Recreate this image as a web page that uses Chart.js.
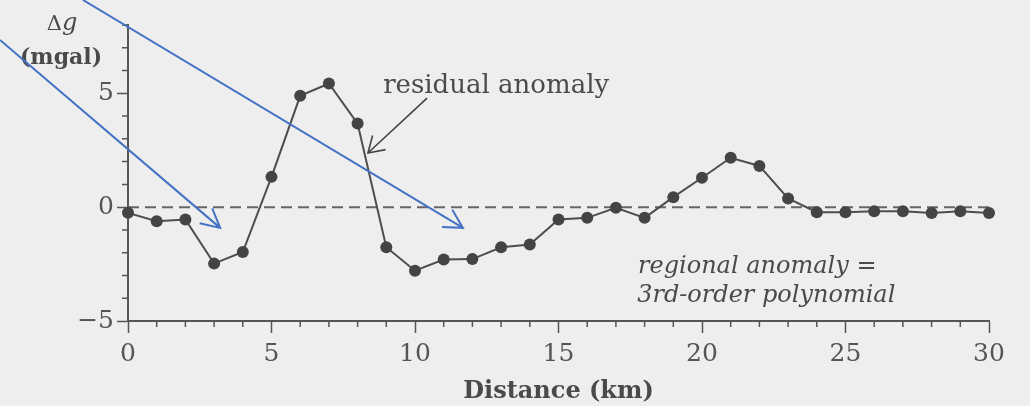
<!DOCTYPE html>
<html>
<head>
<meta charset="utf-8">
<title>Residual gravity anomaly</title>
<script src="https://cdn.jsdelivr.net/npm/chart.js@4.4.1/dist/chart.umd.min.js"></script>
<style>
  html, body { margin: 0; padding: 0; background: #eeeeee; }
  #wrap { width: 1030px; height: 406px; }
</style>
</head>
<body>
<div id="wrap"><canvas id="gravChart"></canvas></div>
<script>
  // station distances along the profile (km)
  const distanceKm = [0, 1, 2, 3, 4, 5, 6, 7, 8, 9, 10, 11, 12, 13, 14, 15,
    16, 17, 18, 19, 20, 21, 22, 23, 24, 25, 26, 27, 28, 29, 30];
  // residual anomaly (mgal)
  const residualMgal = [-0.25, -0.62, -0.54, -2.48, -1.97, 1.33, 4.89, 5.43, 3.67, -1.76,
    -2.79, -2.3, -2.28, -1.76, -1.64, -0.54, -0.47, -0.03, -0.47, 0.44,
    1.29, 2.17, 1.81, 0.38, -0.22, -0.22, -0.18, -0.18, -0.26, -0.18, -0.26];
  // regional anomaly (dashed reference line)
  const regionalKm = [0, 30];
  const regionalMgal = [0, 0];
  const xTickLabels = [0, 5, 10, 15, 20, 25, 30];
  const yTickLabels = [-5, 0, 5];

  const inkColor = '#4a4a4a';
  const axisColor = '#555555';
  const blue = '#4472c4';
  const serif = "'DejaVu Serif', serif";

  function arrow(ctx, x0, y0, x1, y1, head, spread) {
    const a = Math.atan2(y1 - y0, x1 - x0);
    ctx.beginPath();
    ctx.moveTo(x0, y0);
    ctx.lineTo(x1, y1);
    ctx.moveTo(x1 - head * Math.cos(a - spread), y1 - head * Math.sin(a - spread));
    ctx.lineTo(x1, y1);
    ctx.lineTo(x1 - head * Math.cos(a + spread), y1 - head * Math.sin(a + spread));
    ctx.stroke();
  }

  // minor ticks every 1 unit, shorter than the labelled ones
  const minorTicks = {
    id: 'minorTicks',
    afterDraw(chart) {
      const { ctx, scales: { x, y } } = chart;
      ctx.save();
      ctx.strokeStyle = axisColor;
      ctx.lineWidth = 1.5;
      ctx.beginPath();
      for (let v = x.min; v <= x.max; v++) {
        if (v % 5 === 0) continue;
        const px = x.getPixelForValue(v);
        ctx.moveTo(px, x.top);
        ctx.lineTo(px, x.top + 6);
      }
      for (let v = y.min; v <= y.max; v++) {
        if (v % 5 === 0) continue;
        const py = y.getPixelForValue(v);
        ctx.moveTo(y.right - 6, py);
        ctx.lineTo(y.right, py);
      }
      ctx.stroke();
      ctx.restore();
    }
  };

  // text labels, pointer and the blue overlay arrows, placed in data units
  const notes = {
    id: 'notes',
    afterDraw(chart) {
      const { ctx, scales: { x, y }, chartArea } = chart;
      const X = (v) => x.getPixelForValue(v);
      const Y = (v) => y.getPixelForValue(v);
      ctx.save();
      ctx.fillStyle = inkColor;
      ctx.textBaseline = 'alphabetic';

      // y axis title
      ctx.textAlign = 'left';
      ctx.font = '21px ' + serif;
      const dW = ctx.measureText('Δ').width;
      ctx.font = 'italic 24px ' + serif;
      const gW = ctx.measureText('g').width;
      const dx = chartArea.left - 66 - (dW + gW) / 2;
      ctx.font = '21px ' + serif;
      ctx.fillText('Δ', dx, 30);
      ctx.font = 'italic 24px ' + serif;
      ctx.fillText('g', dx + dW, 30);
      ctx.textAlign = 'center';
      ctx.font = 'bold 22px ' + serif;
      ctx.fillText('(mgal)', chartArea.left - 67, 64);

      // residual label + pointer
      ctx.textAlign = 'left';
      ctx.font = '26px ' + serif;
      ctx.fillText('residual anomaly', X(8.89), Y(5.01));
      ctx.strokeStyle = '#444';
      ctx.lineWidth = 1.6;
      arrow(ctx, X(10.42), Y(4.79), X(8.36), Y(2.38), 18, 0.56);

      // regional label
      ctx.font = 'italic 24px ' + serif;
      ctx.fillText('regional anomaly =', X(17.77), Y(-2.89));
      ctx.fillText('3rd-order polynomial', X(17.74), Y(-4.16));

      // blue overlay arrows
      ctx.strokeStyle = blue;
      ctx.lineWidth = 2;
      arrow(ctx, X(-4.46), Y(7.34), X(3.21), Y(-0.91), 21, 0.48);
      arrow(ctx, X(-1.57), Y(9.1), X(11.67), Y(-0.91), 21, 0.5);
      ctx.restore();
    }
  };

  function generateChart() {
    const info = {
      datasets: [
        {
          label: 'residual anomaly',
          data: distanceKm.map((d, i) => ({ x: d, y: residualMgal[i] })),
          borderColor: '#4d4d4d',
          borderWidth: 2,
          pointRadius: 6,
          pointBackgroundColor: '#444',
          pointBorderWidth: 0,
          tension: 0,
          clip: false,
          order: 0,
        },
        {
          label: 'regional anomaly',
          data: regionalKm.map((d, i) => ({ x: d, y: regionalMgal[i] })),
          borderColor: '#666',
          borderWidth: 2,
          borderDash: [11, 6],
          pointRadius: 0,
          clip: false,
          order: 1,
        },
      ],
    };
    const options = {
      responsive: true,
      maintainAspectRatio: false,
      animation: false,
      layout: { padding: { top: 25, right: 41, bottom: 0, left: 0 } },
      scales: {
        x: {
          type: 'linear',
          min: 0,
          max: 30,
          afterBuildTicks: (scale) => { scale.ticks = xTickLabels.map((v) => ({ value: v })); },
          afterFit: (scale) => { scale.height = 85; },
          ticks: {
            color: axisColor,
            font: { family: serif, size: 25 },
            padding: 6,
            maxRotation: 0,
          },
          grid: {
            drawOnChartArea: false,
            tickLength: 12,
            tickColor: axisColor,
            tickWidth: 1.5,
          },
          border: { color: axisColor, width: 2 },
          title: {
            display: true,
            text: 'Distance (km)',
            color: inkColor,
            font: { family: serif, size: 24, weight: 'bold' },
            padding: { top: 0, bottom: 0 },
          },
        },
        y: {
          min: -5,
          max: 8,
          afterBuildTicks: (scale) => { scale.ticks = yTickLabels.map((v) => ({ value: v })); },
          afterFit: (scale) => { scale.width = 128; },
          ticks: {
            color: axisColor,
            font: { family: serif, size: 25 },
            padding: 3,
            callback: (v) => (v < 0 ? '\u2212' + Math.abs(v) : String(v)),
          },
          grid: {
            drawOnChartArea: false,
            tickLength: 11,
            tickColor: axisColor,
            tickWidth: 1.5,
          },
          border: { color: axisColor, width: 2 },
        },
      },
      plugins: {
        legend: { display: false },
        tooltip: { enabled: false },
      },
    };
    const config = {
      type: 'line',
      data: info,
      options,
      plugins: [minorTicks, notes],
    };
    new Chart(document.getElementById('gravChart'), config);
  }
  generateChart();
</script>
</body>
</html>
